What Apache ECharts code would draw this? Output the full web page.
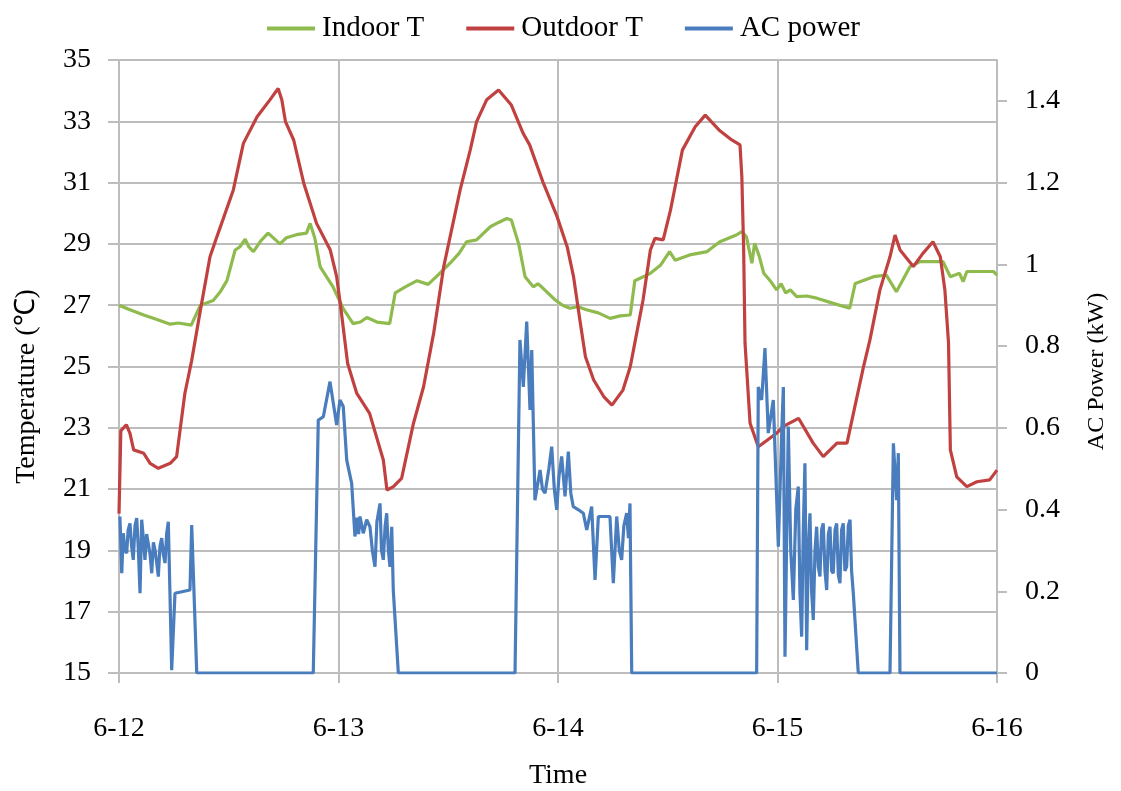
<!DOCTYPE html>
<html>
<head>
<meta charset="utf-8">
<script src="https://cdn.jsdelivr.net/npm/echarts@6/dist/echarts.min.js"></script>
<style>
  html, body { margin: 0; padding: 0; background: #fff; }
  #chart { width: 1121px; height: 791px; }
</style>
</head>
<body>
<div id="chart"></div>
<script>
// Time is counted in hours from 6-12 00:00
const dayLabels = ['6-12', '6-13', '6-14', '6-15', '6-16'];
const seriesNames = ['Indoor T', 'Outdoor T', 'AC power'];

// Indoor temperature (°C)
const indoorT = [
  [0,27.0],[1.2,26.85],[2.7,26.68],[4,26.55],[5.6,26.38],[6.5,26.42],[7.9,26.35],[8.9,27.0],
  [10.3,27.15],[11.1,27.45],[11.8,27.8],[12.7,28.8],[13.2,28.9],[13.8,29.15],[14.2,28.9],[14.7,28.75],
  [15.5,29.1],[16.3,29.35],[17.6,29.0],[18.3,29.2],[19.4,29.3],[20.5,29.35],[20.9,29.67],[21.4,29.2],
  [22.0,28.25],[23.4,27.6],[24.5,26.9],[25.6,26.4],[26.4,26.45],[27.1,26.6],[28.2,26.45],[29.6,26.4],
  [30.2,27.4],[31.3,27.6],[32.6,27.8],[33.8,27.68],[34.7,27.93],[36.2,28.37],[37.2,28.7],[38.0,29.07],
  [39.1,29.13],[40.6,29.56],[41.5,29.7],[42.4,29.83],[42.9,29.78],[43.7,29.0],[44.4,27.93],[45.3,27.6],
  [45.8,27.7],[46.2,27.6],[47.7,27.17],[48.5,27.0],[49.3,26.9],[50.2,26.95],[51.1,26.85],[52.4,26.75],
  [53.7,26.57],[54.8,26.65],[55.9,26.68],[56.4,27.8],[58.1,28.04],[59.2,28.3],[60.2,28.75],[60.8,28.47],
  [62.4,28.64],[64.3,28.75],[65.7,29.07],[67.5,29.29],[68.1,29.4],[68.6,29.23],[69.2,28.37],[69.5,29.02],
  [70.0,28.6],[70.5,28.04],[71.2,27.8],[71.9,27.5],[72.4,27.7],[72.9,27.4],[73.4,27.5],[74.1,27.28],
  [75.2,27.3],[76.3,27.23],[78.1,27.06],[79.9,26.9],[80.5,27.71],[82.5,27.93],[83.9,27.98],[85.0,27.44],
  [86.5,28.26],[87.6,28.42],[90.1,28.42],[90.9,27.93],[91.9,28.04],[92.3,27.77],[92.7,28.1],[95.6,28.1],
  [96,27.98]
];

// Outdoor temperature (°C)
const outdoorT = [
  [0,20.2],[0.2,22.9],[0.8,23.1],[1.2,22.82],[1.6,22.28],[2.7,22.17],[3.4,21.84],[4.3,21.68],
  [5.6,21.84],[6.3,22.06],[7.2,24.12],[7.95,25.2],[8.9,26.84],[9.95,28.58],[10.7,29.23],[12.5,30.76],
  [13.6,32.28],[15.1,33.15],[16.5,33.7],[17.4,34.07],[17.8,33.7],[18.2,32.99],[19.1,32.39],[20.2,30.98],
  [21.6,29.67],[23.1,28.8],[23.8,27.93],[24.3,26.8],[25.0,25.1],[26.0,24.12],[27.4,23.47],[28.9,21.95],
  [29.3,20.97],[30.0,21.08],[30.9,21.35],[32.2,23.15],[33.3,24.34],[34.4,26.08],[35.5,28.25],[37.3,30.76],
  [38.4,32.06],[39.1,32.99],[40.2,33.7],[41.5,34.02],[42.9,33.53],[44.2,32.6],[44.9,32.23],[46.4,30.98],
  [47.9,29.89],[49.0,28.91],[49.7,27.93],[50.4,26.5],[51.0,25.32],[51.9,24.56],[53.0,24.02],[53.9,23.74],
  [55.1,24.23],[55.9,24.99],[56.6,26.08],[57.3,27.17],[58.1,28.8],[58.6,29.18],[59.5,29.13],[60.3,30.1],
  [61.6,32.06],[63.0,32.82],[64.1,33.2],[65.6,32.72],[67.0,32.39],[67.9,32.23],[68.1,31.19],[68.3,28.8],
  [68.45,25.76],[69.0,23.15],[69.9,22.38],[71.9,22.82],[72.6,23.04],[74.3,23.31],[75.9,22.5],[77.0,22.06],
  [78.5,22.5],[79.6,22.5],[80.3,23.47],[81.4,24.99],[82.1,25.86],[83.2,27.5],[84.3,28.58],[84.85,29.29],
  [85.4,28.8],[86.85,28.26],[87.9,28.69],[89.0,29.07],[89.8,28.58],[90.3,27.5],[90.7,25.76],[90.9,22.28],
  [91.6,21.4],[92.7,21.08],[93.8,21.24],[95.2,21.3],[96,21.62]
];

// Air-conditioner power (kW)
const acPower = [
  [0.1,0.383],[0.3,0.244],[0.47,0.342],[0.65,0.3],[0.84,0.293],[1.0,0.35],[1.2,0.366],[1.38,0.31],
  [1.56,0.277],[1.75,0.36],[1.94,0.379],[2.12,0.3],[2.3,0.195],[2.48,0.375],[2.66,0.33],[2.84,0.277],
  [3.02,0.34],[3.2,0.317],[3.4,0.29],[3.58,0.244],[3.76,0.32],[3.94,0.301],[4.12,0.27],[4.3,0.236],
  [4.48,0.31],[4.67,0.33],[4.85,0.29],[5.03,0.269],[5.21,0.34],[5.39,0.37],[5.58,0.187],[5.76,0.007],
  [6.12,0.195],[7.76,0.203],[7.95,0.362],[8.5,0],
  [21.24,0],[21.79,0.619],[22.34,0.627],[23.07,0.713],[23.8,0.607],[24.16,0.668],[24.52,0.652],[24.9,0.521],
  [25.44,0.464],[25.8,0.334],[26.0,0.38],[26.2,0.34],[26.35,0.383],[26.71,0.342],[27.08,0.375],[27.44,0.358],
  [27.7,0.3],[27.99,0.26],[28.2,0.37],[28.54,0.415],[28.7,0.3],[28.9,0.277],[29.1,0.36],[29.27,0.391],
  [29.45,0.3],[29.63,0.26],[29.82,0.358],[29.99,0.203],[30.54,0],
  [43.3,0],[43.84,0.815],[44.21,0.70],[44.58,0.86],[44.94,0.644],[45.13,0.79],[45.48,0.423],[46.04,0.497],
  [46.3,0.45],[46.58,0.44],[47.0,0.5],[47.31,0.554],[47.6,0.45],[47.86,0.399],[48.1,0.48],[48.4,0.53],
  [48.77,0.432],[49.13,0.542],[49.4,0.44],[49.67,0.407],[50.2,0.4],[50.77,0.391],[51.14,0.35],[51.68,0.407],
  [52.05,0.228],[52.41,0.383],[53.68,0.383],[54.05,0.22],[54.42,0.383],[54.7,0.3],[54.96,0.277],[55.2,0.36],
  [55.51,0.391],[55.7,0.33],[55.87,0.415],[56.06,0],
  [69.72,0],[69.9,0.70],[70.27,0.668],[70.63,0.795],[70.99,0.587],[71.54,0.668],[72.09,0.309],[72.46,0.587],
  [72.64,0.70],[72.82,0.04],[73.18,0.603],[73.45,0.3],[73.73,0.179],[74.0,0.4],[74.27,0.456],[74.45,0.2],
  [74.64,0.089],[74.82,0.35],[75.0,0.513],[75.19,0.056],[75.37,0.3],[75.55,0.391],[75.73,0.2],[75.91,0.13],
  [76.1,0.3],[76.28,0.358],[76.46,0.26],[76.64,0.236],[76.82,0.35],[77.0,0.366],[77.19,0.25],[77.38,0.203],
  [77.56,0.34],[77.74,0.358],[77.92,0.25],[78.1,0.244],[78.29,0.35],[78.47,0.366],[78.65,0.24],[78.83,0.22],
  [79.01,0.35],[79.19,0.366],[79.37,0.25],[79.56,0.26],[79.74,0.36],[79.93,0.375],[80.1,0.25],[80.29,0.195],
  [80.83,0],
  [84.3,0],[84.67,0.562],[85.03,0.423],[85.21,0.538],[85.39,0],[96,0]
];

const FONT = "'Liberation Serif', 'Times New Roman', serif";
const GRID_COLOR = '#bdbdbd';

const chart = echarts.init(document.getElementById('chart'), null, { renderer: 'canvas' });

chart.setOption({
  animation: false,
  backgroundColor: '#ffffff',
  textStyle: { fontFamily: FONT, color: '#000' },
  color: ['#8fbb4e', '#c0413f', '#4a7dbd'],
  legend: {
    top: 9,
    left: 262,
    icon: 'rect',
    itemWidth: 48,
    itemHeight: 4,
    itemGap: 42,
    textStyle: { fontFamily: FONT, fontSize: 29, color: '#000', padding: [0, 0, 0, 2] },
    data: seriesNames
  },
  grid: { left: 119, right: 124, top: 60, bottom: 118, containLabel: false, outerBoundsMode: 'none' },
  xAxis: {
    type: 'value',
    min: 0,
    max: 96,
    interval: 24,
    name: 'Time',
    nameLocation: 'middle',
    nameGap: 89,
    nameTextStyle: { fontFamily: FONT, fontSize: 28, color: '#000' },
    axisLine: { show: true, lineStyle: { color: GRID_COLOR, width: 2 } },
    axisTick: { show: true, length: 10, lineStyle: { color: GRID_COLOR, width: 2 } },
    splitLine: { show: true, lineStyle: { color: GRID_COLOR, width: 2 } },
    axisLabel: {
      margin: 42,
      fontFamily: FONT, fontSize: 28, color: '#000',
      formatter: v => dayLabels[Math.round(v / 24)]
    }
  },
  yAxis: [
    {
      type: 'value',
      min: 15,
      max: 35,
      interval: 2,
      name: 'Temperature (℃)',
      nameLocation: 'middle',
      nameRotate: 90,
      nameGap: 78,
      nameTextStyle: { fontFamily: FONT, fontSize: 28, color: '#000', padding: [0, 40, 0, 0] },
      axisLine: { show: true, lineStyle: { color: GRID_COLOR, width: 2 } },
      axisTick: { show: true, length: 11, lineStyle: { color: GRID_COLOR, width: 2 } },
      splitLine: { show: true, lineStyle: { color: GRID_COLOR, width: 2 } },
      axisLabel: { margin: 28, fontFamily: FONT, fontSize: 28, color: '#000' }
    },
    {
      type: 'value',
      min: 0,
      max: 1.5,
      interval: 0.2,
      name: 'AC Power (kW)',
      nameLocation: 'middle',
      nameRotate: 90,
      nameGap: 88,
      nameTextStyle: { fontFamily: FONT, fontSize: 24, color: '#000', padding: [0, 10, 0, 0] },
      axisLine: { show: true, lineStyle: { color: GRID_COLOR, width: 2 } },
      axisTick: { show: true, length: 10, lineStyle: { color: GRID_COLOR, width: 2 } },
      splitLine: { show: false },
      axisLabel: { margin: 28, fontFamily: FONT, fontSize: 28, color: '#000', showMaxLabel: false }
    }
  ],
  series: [
    {
      name: seriesNames[0], type: 'line', yAxisIndex: 0, data: indoorT,
      showSymbol: false, symbol: 'none', lineStyle: { width: 3.2 }
    },
    {
      name: seriesNames[1], type: 'line', yAxisIndex: 0, data: outdoorT,
      showSymbol: false, symbol: 'none', lineStyle: { width: 3.2 }
    },
    {
      name: seriesNames[2], type: 'line', yAxisIndex: 1, data: acPower,
      showSymbol: false, symbol: 'none', lineStyle: { width: 3.2 }
    }
  ]
});
</script>
</body>
</html>
